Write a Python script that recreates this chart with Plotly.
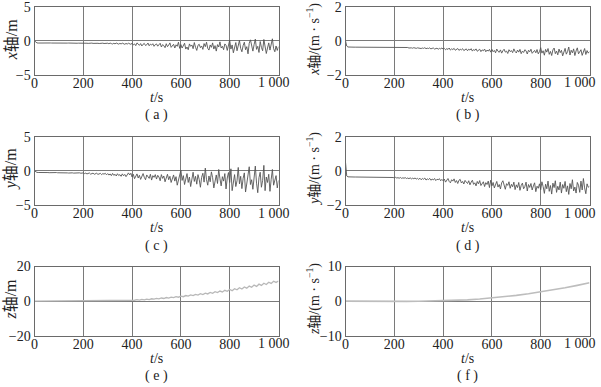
import plotly.graph_objects as go
from plotly.subplots import make_subplots

# ---------------- data ----------------
t_fine = list(range(0, 1001, 5))      # 201 samples, 5 s step
t_mid = list(range(0, 1001, 10))      # 101 samples, 10 s step
t_coarse = list(range(0, 1001, 50))   # 21 samples, 50 s step

x_pos = [
    0.00, -0.22, -0.30, -0.32, -0.31, -0.32, -0.31, -0.32, -0.32, -0.31, -0.32, -0.33, -0.32, -0.31, -0.32, -0.33, -0.32, -0.32, -0.33, -0.32,
    -0.33, -0.32, -0.33, -0.34, -0.32, -0.33, -0.34, -0.33, -0.32, -0.34, -0.33, -0.35, -0.33, -0.34, -0.33, -0.35, -0.34, -0.33, -0.35, -0.34,
    -0.34, -0.36, -0.33, -0.35, -0.37, -0.34, -0.36, -0.33, -0.37, -0.35, -0.38, -0.34, -0.36, -0.39, -0.35, -0.37, -0.34, -0.39, -0.36, -0.38,
    -0.35, -0.42, -0.33, -0.40, -0.46, -0.36, -0.44, -0.32, -0.41, -0.48, -0.37, -0.45, -0.34, -0.43, -0.50, -0.38, -0.47, -0.35, -0.44, -0.51,
    -0.35, -0.60, -0.45, -0.70, -0.30, -0.55, -0.65, -0.40, -0.75, -0.50, -0.38, -0.68, -0.58, -0.32, -0.72, -0.48, -0.62, -0.42, -0.80, -0.55,
    -0.45, -0.78, -0.60, -0.35, -0.90, -0.55, -0.70, -1.00, -0.42, -0.85, -0.62, -0.30, -0.95, -0.72, -0.50, -1.05, -0.58, -0.80, -0.20, -1.10,
    -0.55, -1.05, -0.70, -0.35, -1.20, -0.90, -1.30, -0.45, -0.80, -0.60, -1.15, -0.25, -0.95, -1.40, -0.65, -0.50, -1.00, -0.75, -1.25, -0.40,
    -0.85, -0.20, -1.10, -1.35, -0.60, -0.95, -0.30, -1.20, -0.70, -1.50, -0.55, -0.90, -0.15, -1.05, -0.80, -1.30, -0.45, -0.65, -1.40, -0.35,
    0.10, -1.20, -0.60, -1.75, -0.95, -0.25, -1.45, -0.40, 0.05, -1.10, -1.60, -0.70, -0.20, -1.30, -0.85, -1.90, -0.35, 0.15, -1.00, -1.50,
    -0.55, 0.25, -1.25, -0.80, -1.70, -0.10, -0.95, -1.45, 0.20, -0.65, -1.85, -1.05, -0.30, -1.35, -0.50, 0.30, -1.15, -1.60, -0.75, -1.40, -0.85,
]

x_vel = [
    0.00, -0.30, -0.36, -0.37, -0.37, -0.37, -0.37, -0.37, -0.37, -0.37, -0.37, -0.37, -0.37, -0.37, -0.37, -0.37, -0.38, -0.37, -0.38, -0.37,
    -0.38, -0.38, -0.38, -0.38, -0.38, -0.38, -0.38, -0.38, -0.38, -0.38, -0.38, -0.38, -0.39, -0.38, -0.39, -0.38, -0.39, -0.39, -0.39, -0.39,
    -0.39, -0.40, -0.39, -0.40, -0.39, -0.40, -0.40, -0.39, -0.41, -0.40, -0.41, -0.39, -0.42, -0.40, -0.41, -0.43, -0.40, -0.42, -0.44, -0.41,
    -0.43, -0.41, -0.45, -0.42, -0.44, -0.40, -0.46, -0.43, -0.45, -0.41, -0.47, -0.44, -0.42, -0.48, -0.45, -0.43, -0.49, -0.44, -0.47, -0.42,
    -0.48, -0.44, -0.52, -0.46, -0.50, -0.42, -0.54, -0.47, -0.51, -0.44, -0.55, -0.48, -0.45, -0.56, -0.49, -0.53, -0.46, -0.57, -0.50, -0.47,
    -0.58, -0.49, -0.54, -0.46, -0.60, -0.51, -0.56, -0.47, -0.61, -0.52, -0.49, -0.63, -0.53, -0.58, -0.48, -0.64, -0.54, -0.60, -0.50, -0.66,
    -0.50, -0.64, -0.56, -0.70, -0.48, -0.61, -0.67, -0.53, -0.72, -0.58, -0.49, -0.66, -0.60, -0.74, -0.52, -0.63, -0.57, -0.69, -0.47, -0.62,
    -0.71, -0.54, -0.66, -0.50, -0.75, -0.60, -0.68, -0.52, -0.58, -0.77, -0.55, -0.64, -0.49, -0.73, -0.61, -0.56, -0.70, -0.51, -0.76, -0.63,
    -0.40, -0.72, -0.58, -0.84, -0.50, -0.66, -0.45, -0.79, -0.62, -0.86, -0.53, -0.42, -0.75, -0.60, -0.82, -0.48, -0.69, -0.55, -0.88, -0.57,
    -0.44, -0.78, -0.63, -0.36, -0.83, -0.55, -0.70, -0.47, -0.86, -0.59, -0.41, -0.76, -0.66, -0.52, -0.85, -0.60, -0.45, -0.80, -0.57, -0.72, -0.62,
]

y_pos = [
    0.00, -0.15, -0.22, -0.24, -0.23, -0.25, -0.24, -0.26, -0.25, -0.24, -0.26, -0.25, -0.27, -0.25, -0.26, -0.28, -0.26, -0.27, -0.25, -0.28,
    -0.27, -0.29, -0.26, -0.30, -0.28, -0.31, -0.27, -0.30, -0.32, -0.28, -0.31, -0.29, -0.33, -0.30, -0.28, -0.34, -0.31, -0.29, -0.35, -0.32,
    -0.30, -0.40, -0.33, -0.45, -0.36, -0.31, -0.48, -0.38, -0.34, -0.50, -0.40, -0.35, -0.52, -0.42, -0.37, -0.55, -0.41, -0.48, -0.36, -0.58,
    -0.40, -0.62, -0.45, -0.70, -0.38, -0.66, -0.50, -0.75, -0.42, -0.68, -0.55, -0.80, -0.44, -0.72, -0.52, -0.85, -0.47, -0.30, -0.60, -0.35,
    -0.90, -0.50, -1.15, -0.75, -0.45, -1.05, -0.65, -1.25, -0.85, -0.40, -0.95, -1.30, -0.60, -0.80, -1.10, -0.50, -1.35, -0.70, -0.95, -0.55,
    -1.20, -0.65, -0.90, -1.45, -0.55, -1.10, -0.75, -1.60, -0.95, -0.50, -1.30, -0.80, -1.70, -1.05, -0.60, -1.50, -0.85, -2.10, -1.20, -0.30,
    0.10, -1.40, -0.70, -2.00, -1.10, -0.40, -1.70, -0.90, -2.30, -1.20, -0.20, -1.55, -0.80, -1.95, -0.55, -1.25, -2.40, -0.95, -0.35, -1.65,
    0.40, -1.30, -2.10, -0.75, -1.60, -0.15, -1.00, -2.50, -1.35, -0.60, -1.85, 0.20, -1.15, -2.20, -0.85, -1.50, -0.40, -2.65, -1.05, -0.25,
    -1.70, 0.30, -2.90, -1.20, -0.55, -2.30, -1.45, 0.50, -1.90, -0.80, -2.60, -1.10, -0.30, -3.10, -1.60, -0.70, 0.60, -2.00, -1.30, -2.70,
    -0.45, 0.70, -1.80, -3.20, -1.00, -0.20, -2.40, -1.40, 0.80, -2.90, -0.90, -1.70, -0.50, -3.00, -1.25, 0.20, -2.10, -1.55, -0.70, -2.50, -1.40,
]

y_vel = [
    0.50, -0.30, -0.35, -0.36, -0.36, -0.36, -0.36, -0.36, -0.36, -0.36, -0.37, -0.36, -0.37, -0.36, -0.37, -0.37, -0.37, -0.37, -0.37, -0.37,
    -0.37, -0.38, -0.37, -0.38, -0.37, -0.38, -0.38, -0.38, -0.37, -0.39, -0.38, -0.39, -0.38, -0.39, -0.38, -0.40, -0.38, -0.39, -0.40, -0.39,
    -0.41, -0.38, -0.42, -0.40, -0.43, -0.39, -0.44, -0.41, -0.43, -0.40, -0.45, -0.42, -0.46, -0.41, -0.47, -0.43, -0.46, -0.42, -0.48, -0.44,
    -0.50, -0.43, -0.52, -0.45, -0.49, -0.42, -0.54, -0.47, -0.51, -0.44, -0.55, -0.48, -0.53, -0.45, -0.57, -0.49, -0.52, -0.46, -0.58, -0.50,
    -0.58, -0.48, -0.66, -0.54, -0.45, -0.62, -0.70, -0.52, -0.60, -0.47, -0.68, -0.57, -0.74, -0.55, -0.50, -0.71, -0.62, -0.77, -0.56, -0.66,
    -0.74, -0.58, -0.82, -0.66, -0.55, -0.79, -0.70, -0.88, -0.62, -0.76, -0.57, -0.86, -0.72, -0.64, -0.92, -0.69, -0.80, -0.60, -0.98, -0.55,
    -0.88, -0.68, -1.00, -0.76, -0.62, -0.95, -0.80, -1.06, -0.70, -0.58, -0.92, -1.08, -0.75, -0.85, -0.64, -1.02, -0.79, -0.93, -0.66, -1.10,
    -0.82, -0.98, -0.68, -1.14, -0.86, -0.72, -1.05, -0.92, -0.66, -1.18, -0.80, -0.97, -0.74, -1.12, -0.88, -0.70, -1.22, -0.90, -1.02, -0.76,
    -1.10, -0.64, -0.92, -1.32, -0.78, -1.05, -0.60, -1.20, -0.86, -1.36, -0.72, -0.98, -0.58, -1.26, -0.90, -1.12, -0.66, -1.30, -0.80, -1.02,
    -0.62, -1.22, -0.88, -1.38, -0.74, -1.05, -0.52, -1.18, -0.95, -1.30, -0.68, -0.84, -1.26, -0.60, -1.12, -0.45, -1.00, -1.34, -0.76, -0.96, -0.90,
]

z_pos = [
    0.00, 0.02, -0.03, 0.01, -0.02, 0.03, -0.01, 0.02, -0.03, 0.01,
    0.00, 0.03, -0.02, 0.02, -0.03, 0.01, 0.03, -0.02, 0.02, -0.01,
    0.05, -0.02, 0.08, 0.02, 0.10, 0.05, 0.14, 0.08, 0.18, 0.12,
    0.25, 0.15, 0.30, 0.22, 0.38, 0.28, 0.45, 0.35, 0.55, 0.42,
    0.65, 0.50, 0.80, 0.62, 0.95, 0.75, 1.15, 0.90, 1.35, 1.10,
    1.55, 1.30, 1.80, 1.50, 2.05, 1.75, 2.30, 2.00, 2.60, 2.25,
    2.90, 2.55, 3.20, 2.85, 3.55, 3.15, 3.90, 3.45, 4.25, 3.80,
    4.60, 4.15, 5.00, 4.50, 5.40, 4.90, 5.80, 5.30, 6.25, 5.70,
    6.70, 6.05, 7.20, 6.55, 7.70, 7.00, 8.20, 7.50, 8.70, 8.00,
    9.25, 8.50, 9.80, 9.05, 10.35, 9.60, 10.90, 10.20, 11.50, 10.80, 11.60,
]

z_vel = [0.00, -0.05, -0.08, -0.10, -0.10, -0.08, -0.05, 0.00, 0.05, 0.15, 0.35,
         0.60, 0.90, 1.25, 1.65, 2.10, 2.65, 3.20, 3.85, 4.55, 5.30]

x_tickvals = [0, 200, 400, 600, 800]
x_ticktext = ["0", "200", "400", "600", "800"]
last_tick_label = "1 000"   # at t = 1000, drawn as a separate text (offset left as in the reference)

y_ticks = {
    "pos_xy": ([-5, 0, 5], ["\u22125", "0", "5"]),
    "vel_xy": ([-2, 0, 2], ["\u22122", "0", "2"]),
    "pos_z": ([-20, 0, 20], ["\u221220", "0", "20"]),
    "vel_z": ([-10, 0, 10], ["\u221210", "0", "10"]),
}

y_titles = [
    "<i>x</i>轴/m", "<i>x</i>轴/(m · s<sup>−1</sup>)",
    "<i>y</i>轴/m", "<i>y</i>轴/(m · s<sup>−1</sup>)",
    "<i>z</i>轴/m", "<i>z</i>轴/(m · s<sup>−1</sup>)",
]
panel_labels = ["( a )", "( b )", "( c )", "( d )", "( e )", "( f )"]

# ---------------- figure ----------------
W, H = 601, 387
FONT = "Liberation Serif, Noto Sans CJK SC, serif"

fig = make_subplots(rows=3, cols=2)

panels = [
    (1, 1, t_fine, x_pos, "#555555", 0.9, "pos_xy"),
    (1, 2, t_fine, x_vel, "#555555", 0.9, "vel_xy"),
    (2, 1, t_fine, y_pos, "#555555", 0.9, "pos_xy"),
    (2, 2, t_fine, y_vel, "#555555", 0.9, "vel_xy"),
    (3, 1, t_mid, z_pos, "#b8b8b8", 1.3, "pos_z"),
    (3, 2, t_coarse, z_vel, "#bdbdbd", 1.6, "vel_z"),
]

col_px = {1: (34.5, 278.5), 2: (345.5, 589.5)}
row_px = {1: (6.7, 75.0), 2: (136.7, 205.0), 3: (266.5, 335.7)}
title_x = {1: 11.0, 2: 313.5}
title_size = {1: 16, 2: 14}
last_label_x = {1: 274.0, 2: 580.0}

for i, (r, c, tx, ys, col, lw, key) in enumerate(panels):
    fig.add_trace(go.Scatter(x=tx, y=ys, mode="lines",
                             line=dict(color=col, width=lw),
                             showlegend=False, hoverinfo="skip"), row=r, col=c)
    n = i + 1
    xa = "xaxis" if n == 1 else f"xaxis{n}"
    ya = "yaxis" if n == 1 else f"yaxis{n}"
    x0, x1 = col_px[c]
    y0, y1 = row_px[r]
    tv, tt = y_ticks[key]
    fig.layout[xa].update(
        domain=[x0 / W, x1 / W], range=[0, 1000], automargin=False,
        tickvals=x_tickvals, ticktext=x_ticktext,
        ticklabeloverflow="allow", ticklabelstandoff=-5,
        showgrid=True, gridcolor="#7a7a7a", gridwidth=1,
        zeroline=False, showline=True, linecolor="#6a6a6a", linewidth=1, mirror=True,
        ticks="", tickfont=dict(family=FONT, size=14, color="#222"),
    )
    fig.layout[ya].update(
        domain=[1 - y1 / H, 1 - y0 / H], range=[tv[0], tv[-1]], automargin=False,
        tickvals=tv, ticktext=tt, ticklabeloverflow="allow",
        showgrid=True, gridcolor="#7a7a7a", gridwidth=1,
        zeroline=False, showline=True, linecolor="#6a6a6a", linewidth=1, mirror=True,
        ticks="", tickfont=dict(family=FONT, size=14, color="#222"),
    )
    xc = (x0 + x1) / 2
    # last x tick label ("1 000")
    fig.add_annotation(text=last_tick_label, xref="paper", yref="paper",
                       x=last_label_x[c] / W, y=1 - (y1 + 8) / H,
                       xanchor="center", yanchor="middle",
                       showarrow=False, font=dict(family=FONT, size=14, color="#222"))
    # y-axis title
    fig.add_annotation(text=y_titles[i], xref="paper", yref="paper",
                       x=title_x[c] / W, y=1 - ((y0 + y1) / 2 - 1.5) / H,
                       xanchor="center", yanchor="middle", textangle=-90,
                       showarrow=False, font=dict(family=FONT, size=title_size[c], color="#222"))
    # x-axis title
    fig.add_annotation(text="<i>t</i>/s", xref="paper", yref="paper",
                       x=xc / W, y=1 - (y1 + 22.5) / H,
                       xanchor="center", yanchor="middle",
                       showarrow=False, font=dict(family=FONT, size=14, color="#222"))
    # panel label
    fig.add_annotation(text=panel_labels[i], xref="paper", yref="paper",
                       x=xc / W, y=1 - (y1 + 40.5) / H,
                       xanchor="center", yanchor="middle",
                       showarrow=False, font=dict(family=FONT, size=14, color="#222"))

fig.update_layout(width=W, height=H, margin=dict(l=0, r=0, t=0, b=0),
                  paper_bgcolor="white", plot_bgcolor="white",
                  font=dict(family=FONT, color="#222"))

fig.write_html("out.html", config={"displayModeBar": False},
               post_script="document.body.style.margin='0px';document.body.style.padding='0px';")
